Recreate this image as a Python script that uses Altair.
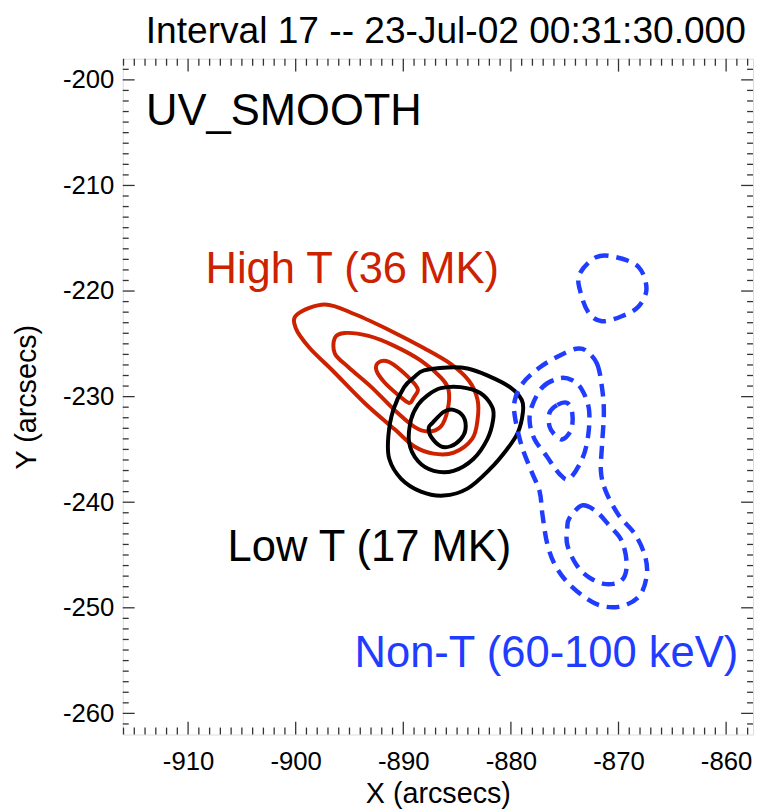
import altair as alt
import pandas as pd

TITLE = "Interval 17 -- 23-Jul-02 00:31:30.000"
X_DOMAIN = [-916.07, -857.5]
Y_DOMAIN = [-262.0, -198.0]
X_MAJOR = [-910, -900, -890, -880, -870, -860]
Y_MAJOR = [-260, -250, -240, -230, -220, -210, -200]
X_MINOR = [v for v in range(-916, -857) if v % 10 != 0]
Y_MINOR = [v for v in range(-261, -198) if v % 10 != 0]

RED = "#cc2200"
BLUE = "#1f3cff"
BLACK = "#000000"

# ---- High T (36 MK) contours (red) ----
hot_outer_x = [-899.85, -897.28, -894.5, -891.1, -888.1, -885.6, -883.9, -883.1, -883.1,
               -883.6, -885.3, -887.2, -889.0, -890.8, -893.6, -896.6, -898.7, -900.0]
hot_outer_y = [-222.2, -221.27, -222.2, -223.8, -225.4, -226.9, -228.5, -230.3, -232.2,
               -234.0, -235.3, -235.4, -234.7, -233.1, -230.6, -227.5, -225.4, -223.5]
hot_mid_x = [-896.36, -895.44, -893.23, -890.84, -888.36, -886.52, -885.79, -885.88,
             -886.52, -887.72, -889.00, -890.84, -892.96, -895.07, -896.36]
hot_mid_y = [-224.44, -223.97, -224.25, -225.19, -226.59, -228.17, -229.38, -231.25,
             -232.84, -233.30, -232.84, -231.25, -229.10, -227.24, -225.93]
hot_in_x = [-892.31, -891.39, -890.20, -889.00, -888.64, -889.00, -889.46, -890.47, -891.76, -892.50]
hot_in_y = [-226.77, -226.68, -227.52, -228.73, -229.38, -230.04, -230.60, -229.85, -228.64, -227.52]

# ---- Low T (17 MK) contours (black) ----
low_outer_x = [-888.08, -885.88, -884.04, -882.20, -880.09, -878.99, -878.89, -879.35, -880.36,
               -881.93, -884.04, -886.25, -888.36, -890.20, -891.30, -891.39, -890.93, -889.92, -889.00]
low_outer_y = [-227.52, -227.24, -227.33, -227.99, -229.10, -230.32, -231.53, -233.40, -234.98,
               -236.85, -238.71, -239.37, -238.99, -237.78, -235.91, -233.77, -231.25, -229.10, -228.17]
low_mid_x = [-887.72, -886.52, -884.68, -882.85, -881.74, -881.65, -882.20, -883.49,
             -885.33, -887.17, -888.64, -889.46, -889.28, -888.64]
low_mid_y = [-229.85, -229.20, -229.10, -229.66, -230.97, -232.18, -234.05, -235.91,
             -237.03, -237.03, -236.10, -234.33, -232.18, -230.78]
low_in_x = [-887.26, -886.25, -885.33, -884.41, -884.22, -884.68, -885.60, -886.52, -887.44, -887.63]
low_in_y = [-232.46, -231.44, -231.25, -231.90, -233.12, -234.05, -234.70, -234.70, -233.77, -232.93]

# ---- Non-thermal (60-100 keV) contours (blue, dashed) ----
nt_top_x = [-873.65, -872.09, -870.25, -868.14, -867.40, -868.14, -869.70, -871.54, -872.74, -873.47]
nt_top_y = [-218.47, -216.79, -216.79, -217.72, -219.78, -221.46, -222.39, -222.86, -222.11, -220.34]
nt_outer_x = [-873.01, -872.00, -871.54, -871.36, -871.54, -871.63, -871.17, -869.98, -868.42,
              -867.50, -867.40, -868.14, -869.98, -872.09, -874.30, -875.77, -876.60, -877.06,
              -877.33, -878.07, -878.99, -879.63, -879.63, -878.89, -877.33, -875.49, -873.93]
nt_outer_y = [-225.65, -226.87, -229.10, -231.53, -234.70, -237.13, -238.99, -241.23, -243.10,
              -245.24, -247.11, -248.97, -249.91, -249.63, -248.04, -246.18, -244.03, -241.23,
              -238.99, -237.13, -234.70, -231.90, -230.32, -228.73, -227.24, -226.12, -225.47]
nt_up_mid_x = [-878.07, -877.06, -875.49, -874.30, -873.38, -872.74, -872.83, -873.38,
               -874.57, -875.49, -876.69, -877.79, -878.25]
nt_up_mid_y = [-230.97, -229.10, -228.26, -228.45, -229.38, -231.25, -233.77, -235.91,
               -237.78, -237.31, -235.63, -234.05, -232.46]
nt_up_in_x = [-876.41, -875.68, -874.76, -874.30, -874.39, -875.22, -875.95, -876.41]
nt_up_in_y = [-231.53, -230.78, -230.60, -231.53, -233.12, -234.05, -233.58, -232.84]
nt_low_mid_x = [-874.57, -873.38, -872.09, -870.90, -869.70, -869.24, -869.70, -871.17,
                -872.74, -873.93, -874.76, -874.76]
nt_low_mid_y = [-241.51, -240.30, -240.86, -242.16, -243.66, -245.90, -247.39, -247.76,
                -247.11, -245.90, -244.03, -242.44]

# ---- annotation labels ----
label_text = ["High T (36 MK)", "Low T (17 MK)", "Non-T (60-100 keV)"]
label_x = [-894.75, -893.15, -876.7]
label_y = [-218.0, -244.35, -254.4]
label_color = [RED, BLACK, BLUE]
panel_text = ["UV_SMOOTH"]
panel_x = [-913.9]
panel_y = [-203.1]


def contour_frame(contours):
    rows = []
    for cid, (xs, ys) in enumerate(contours):
        for i, (x, y) in enumerate(zip(xs, ys)):
            rows.append({"cid": cid, "i": i, "x": x, "y": y})
    return pd.DataFrame(rows)


hot_df = contour_frame([(hot_outer_x, hot_outer_y), (hot_mid_x, hot_mid_y), (hot_in_x, hot_in_y)])
low_df = contour_frame([(low_outer_x, low_outer_y), (low_mid_x, low_mid_y), (low_in_x, low_in_y)])
nt_df = contour_frame([(nt_top_x, nt_top_y), (nt_outer_x, nt_outer_y), (nt_up_mid_x, nt_up_mid_y),
                       (nt_up_in_x, nt_up_in_y), (nt_low_mid_x, nt_low_mid_y)])

W, H = 637, 683
FONT = "Liberation Sans"

xscale = alt.Scale(domain=X_DOMAIN, nice=False, zero=False)
yscale = alt.Scale(domain=Y_DOMAIN, nice=False, zero=False)

x_axis = alt.Axis(values=X_MAJOR, ticks=False, tickSize=0, domain=False, grid=False,
                  labelFontSize=26, labelFont=FONT, labelColor="black", labelPadding=14,
                  labelExpr="toString(datum.value)",
                  title="X (arcsecs)", titleFontSize=29, titleFont=FONT, titleFontWeight="normal",
                  titleColor="black", titlePadding=6)
y_axis = alt.Axis(values=Y_MAJOR, ticks=False, tickSize=0, domain=False, grid=False,
                  labelFontSize=26, labelFont=FONT, labelColor="black", labelPadding=9,
                  labelExpr="toString(datum.value)",
                  title="Y (arcsecs)", titleFontSize=29, titleFont=FONT, titleFontWeight="normal",
                  titleColor="black", titlePadding=21)

X_ENC = alt.X("x:Q", scale=xscale, axis=x_axis)
Y_ENC = alt.Y("y:Q", scale=yscale, axis=y_axis)


def contour_layer(df, color, width=4, dash=None):
    kw = dict(interpolate="cardinal-closed", strokeWidth=width, color=color, clip=True)
    if dash:
        kw["strokeDash"] = dash
    return alt.Chart(df).mark_line(**kw).encode(
        x=X_ENC, y=Y_ENC, detail="cid:N", order="i:Q",
    )


hot = contour_layer(hot_df, RED)
low = contour_layer(low_df, BLACK)
nt = contour_layer(nt_df, BLUE, width=4.5, dash=[13, 8])

lab_df = pd.DataFrame({"t": label_text, "x": label_x, "y": label_y, "c": label_color})
labels = alt.Chart(lab_df).mark_text(font=FONT, fontSize=44, align="center", baseline="middle").encode(
    x=X_ENC, y=Y_ENC, text="t:N", color=alt.Color("c:N", scale=None),
)
panel_df = pd.DataFrame({"t": panel_text, "x": panel_x, "y": panel_y})
panel = alt.Chart(panel_df).mark_text(font=FONT, fontSize=44, align="left", baseline="middle",
                                      color="black").encode(
    x=X_ENC, y=Y_ENC, text="t:N",
)

TICK_COLOR = "#333333"


def xticks(vals, length, top):
    df = pd.DataFrame({"x": vals})
    y0, y1 = (0, length) if top else (H, H - length)
    return alt.Chart(df).mark_rule(color=TICK_COLOR, strokeWidth=1.3).encode(
        x=X_ENC, y=alt.value(y0), y2=alt.value(y1))


def yticks(vals, length, right):
    df = pd.DataFrame({"y": vals})
    x0, x1 = (W, W - length) if right else (0, length)
    return alt.Chart(df).mark_rule(color=TICK_COLOR, strokeWidth=1.3).encode(
        y=Y_ENC, x=alt.value(x0), x2=alt.value(x1))


ticks = [xticks(X_MAJOR, 13, False), xticks(X_MINOR, 7, False),
         xticks(X_MAJOR, 13, True), xticks(X_MINOR, 7, True),
         yticks(Y_MAJOR, 12, False), yticks(Y_MINOR, 6, False),
         yticks(Y_MAJOR, 12, True), yticks(Y_MINOR, 6, True)]

chart = alt.layer(hot, low, nt, labels, panel, *ticks).properties(
    width=W, height=H,
    title=alt.TitleParams(TITLE, fontSize=37.5, font=FONT, fontWeight="normal", anchor="middle",
                          color="black", offset=8, dx=8),
    autosize=alt.AutoSizeParams(type="none"),
    padding={"left": 116, "top": 47, "right": 1, "bottom": 71},
).configure_view(stroke="#222222", strokeWidth=1.6).configure(background="white")

chart.save("out.html", embed_options={"renderer": "svg", "actions": False})
